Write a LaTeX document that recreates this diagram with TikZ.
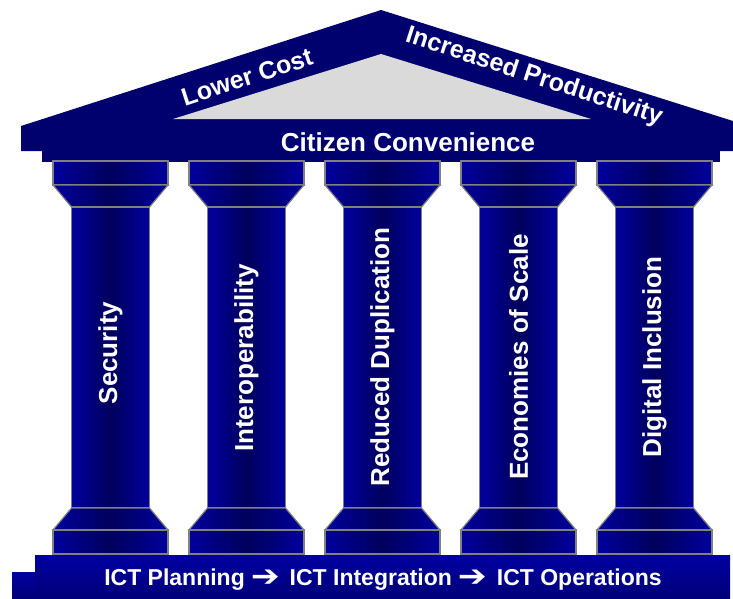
\documentclass[tikz,border=0pt]{standalone}
\usepackage{fontspec}
\usepackage{graphicx}
\setsansfont{Liberation Sans}
\newfontfamily\arrowfont{DejaVu Sans}
\newcommand{\steparrow}{\hspace{6pt}\raisebox{-0.5pt}{\scalebox{1.5}[1.3]{\arrowfont ➔}}\hspace{10pt}}
\definecolor{roofblue}{HTML}{00006E}
\definecolor{roofgray}{HTML}{DADADA}
\definecolor{colblue}{HTML}{00009E}
\definecolor{coldark}{HTML}{00005C}
\definecolor{edgegray}{HTML}{808080}
\definecolor{basetop}{HTML}{0000A2}
\definecolor{basebottom}{HTML}{000078}
\begin{document}
\begin{tikzpicture}[
  x=1pt, y=-1pt,
  piece/.style={draw=edgegray, line width=1.2pt, left color=colblue, right color=colblue, middle color=coldark},
  captext/.style={text=white, font=\sffamily\bfseries\fontsize{26}{28}\selectfont},
  roottext/.style={text=white, font=\sffamily\bfseries\fontsize{25}{27}\selectfont}
]
\useasboundingbox (0,0) rectangle (733,598);

% roof and entablature
\fill[roofblue] (21,126) -- (381,10) -- (733,121) -- (733,151) -- (21,151) -- cycle;
\fill[roofgray] (381,54) -- (591,119) -- (173,119) -- cycle;
\fill[roofblue] (42,150) rectangle (720,162);
\node[roottext, rotate=18] (cost) at (247,77) {Lower Cost};
\node[roottext, rotate=-18] (prod) at (534,77) {Increased Productivity};
\node[roottext, font=\sffamily\bfseries\fontsize{26}{28}\selectfont] (citizen) at (408,142) {Citizen Convenience};

% columns
\foreach \cx/\cy/\txt [count=\i] in {110.5/353/Security, 246.5/358/Interoperability,
    382.5/357/Reduced Duplication, 518.5/357/Economies of Scale, 654.5/357/Digital Inclusion} {
  \shade[piece] (\cx-57.5,161) rectangle (\cx+57.5,185);
  \shade[piece] (\cx-57.5,185) -- (\cx+57.5,185) -- (\cx+39,207) -- (\cx-39,207) -- cycle;
  \shade[piece] (\cx-39,207) rectangle (\cx+39,508);
  \shade[piece] (\cx-39,508) -- (\cx+39,508) -- (\cx+57.5,530) -- (\cx-57.5,530) -- cycle;
  \shade[piece] (\cx-57.5,530) rectangle (\cx+57.5,554);
  \node[captext, rotate=90] (col\i) at (\cx,\cy) {\txt};
}

% base
\shade[top color=basetop, bottom color=basebottom] (12,572) rectangle (720,598);
\shade[top color=basetop, bottom color=basebottom] (35,555) rectangle (730,598);
\node[roottext, font=\sffamily\bfseries\fontsize{23}{25}\selectfont] (flow) at (383,580)
  {ICT Planning\steparrow ICT Integration\steparrow ICT Operations};
\end{tikzpicture}
\end{document}
